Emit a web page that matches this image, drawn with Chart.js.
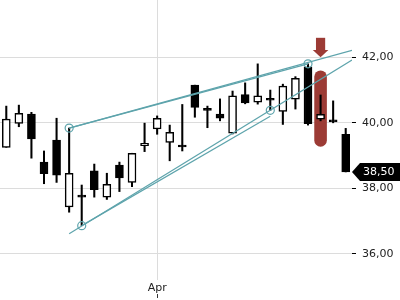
<!DOCTYPE html>
<html>
<head>
<meta charset="utf-8">
<script src="https://cdn.jsdelivr.net/npm/chart.js@4"></script>
<style>
  body { margin: 0; background: #fff; }
</style>
</head>
<body>
<canvas id="chart" width="400" height="300"></canvas>
<script>
// candle values, one entry per trading day
const opens  = [39.25, 39.98, 40.27, 38.80, 39.47, 37.43, 37.75, 38.53, 37.73, 38.71, 38.18, 39.30, 39.81, 39.40,
                39.28, 41.15, 40.40, 40.27, 39.68, 40.86, 40.63, 40.71, 40.35, 40.72, 41.71, 40.11, 40.06, 39.65];
const highs  = [40.51, 40.54, 40.32, 39.14, 40.14, 39.84, 38.10, 38.74, 38.46, 38.80, 39.07, 39.99, 40.21, 39.93,
                40.56, 41.15, 40.51, 40.73, 40.97, 41.22, 41.80, 41.00, 41.18, 41.41, 41.80, 40.85, 40.67, 39.83];
const lows   = [39.25, 39.88, 38.92, 38.14, 38.18, 37.27, 36.86, 37.73, 37.66, 37.90, 38.05, 39.12, 39.65, 38.84,
                39.14, 40.17, 39.85, 40.06, 39.66, 40.58, 40.57, 40.38, 39.95, 40.42, 39.93, 40.06, 40.00, 38.50];
const closes = [40.11, 40.29, 39.51, 38.45, 38.40, 38.46, 37.73, 37.96, 38.12, 38.32, 39.07, 39.37, 40.14, 39.71,
                39.26, 40.47, 40.38, 40.14, 40.82, 40.61, 40.82, 40.69, 41.12, 41.36, 39.97, 40.26, 40.03, 38.50];

const aprIndex = 12;
const yTicks = [36, 38, 40, 42];

// trend lines drawn on the chart: [start, end] as {x: day index, y: price}
const trendLines = [
  [{x: 5, y: 39.84}, {x: 24, y: 41.80}],
  [{x: 5, y: 39.84}, {x: 27.5, y: 42.21}],
  [{x: 5, y: 36.61}, {x: 27.5, y: 41.92}],
  [{x: 6, y: 36.86}, {x: 21, y: 40.20}]
];
const anchors = [{x: 5, y: 39.84}, {x: 24, y: 41.80}, {x: 6, y: 36.86}, {x: 21, y: 40.38}];

// marked day: arrow points at markArrowPrice, highlight covers markTop..markBottom
const markIndex = 25;
const markArrowPrice = 42.0;
const markTop = 41.6;
const markBottom = 39.27;

const teal = '#5ea4ac';
const markRed = '#9c3b35';

const fmt = v => v.toFixed(2).replace('.', ',');

const bodyData = opens.map((o, i) => ({x: i, y: [o, closes[i]]}));
const wickData = lows.map((l, i) => ({x: i, y: [l, highs[i]]}));
const bodyFill = opens.map((o, i) => closes[i] > o ? '#fff' : '#000');

const extras = {
  id: 'extras',
  beforeDatasetsDraw(chart) {
    const {ctx, scales: {x, y}} = chart;
    const cx = x.getPixelForValue(markIndex);
    const top = y.getPixelForValue(markTop);
    const bot = y.getPixelForValue(markBottom);
    ctx.save();
    ctx.fillStyle = markRed;
    ctx.beginPath();
    ctx.roundRect(cx - 6.3, top, 12.6, bot - top, 6.3);
    ctx.fill();
    ctx.restore();
  },
  afterDraw(chart) {
    const {ctx, scales: {x, y}} = chart;
    // arrow
    const cx = x.getPixelForValue(markIndex);
    const tip = y.getPixelForValue(markArrowPrice);
    ctx.save();
    ctx.fillStyle = markRed;
    ctx.fillRect(cx - 4.6, tip - 19.5, 9.2, 12.5);
    ctx.beginPath();
    ctx.moveTo(cx - 7.8, tip - 7.2);
    ctx.lineTo(cx + 7.8, tip - 7.2);
    ctx.lineTo(cx, tip);
    ctx.closePath();
    ctx.fill();

    // small tick under the month label
    const ax = Math.round(x.getPixelForValue(aprIndex)) + 0.5;
    ctx.strokeStyle = '#333';
    ctx.lineWidth = 1;
    ctx.beginPath();
    ctx.moveTo(ax, 294);
    ctx.lineTo(ax, 298);
    ctx.stroke();

    // last price label
    const last = closes[closes.length - 1];
    const py = y.getPixelForValue(last);
    const lx = chart.chartArea.right;
    ctx.fillStyle = '#000';
    ctx.beginPath();
    ctx.moveTo(lx, py);
    ctx.lineTo(lx + 8, py - 9);
    ctx.lineTo(400, py - 9);
    ctx.lineTo(400, py + 9);
    ctx.lineTo(lx + 8, py + 9);
    ctx.closePath();
    ctx.fill();
    ctx.fillStyle = '#fff';
    ctx.font = '11px "DejaVu Sans"';
    ctx.textBaseline = 'middle';
    ctx.textAlign = 'left';
    ctx.fillText(fmt(last), lx + 11, py + 0.5);
    ctx.restore();
  }
};

Chart.defaults.font.family = '"DejaVu Sans", sans-serif';
Chart.defaults.font.size = 11;
Chart.defaults.color = '#222';

const lineSets = trendLines.map(pts => ({
  type: 'line',
  data: pts,
  borderColor: teal,
  borderWidth: 1.2,
  pointRadius: 0,
  fill: false,
  order: 0
}));

new Chart(document.getElementById('chart'), {
  type: 'bar',
  data: {
    datasets: [
      ...lineSets,
      {
        type: 'line',
        data: anchors,
        showLine: false,
        pointRadius: 4,
        pointBorderWidth: 1.2,
        pointBorderColor: teal,
        pointBackgroundColor: 'rgba(0,0,0,0)',
        order: 0
      },
      {
        data: bodyData,
        backgroundColor: bodyFill,
        borderColor: '#000',
        borderWidth: 1.5,
        borderSkipped: false,
        barThickness: 8,
        minBarLength: 2,
        grouped: false,
        order: 1
      },
      {
        data: wickData,
        backgroundColor: '#000',
        borderWidth: 0,
        barThickness: 1.4,
        grouped: false,
        order: 2
      }
    ]
  },
  plugins: [extras],
  options: {
    responsive: false,
    animation: false,
    devicePixelRatio: 1,
    layout: { padding: 0, autoPadding: false },
    plugins: {
      legend: { display: false },
      tooltip: { enabled: false }
    },
    scales: {
      x: {
        type: 'linear',
        min: -0.5,
        max: closes.length - 0.5,
        offset: false,
        afterBuildTicks: s => { s.ticks = [{value: aprIndex}]; },
        afterFit: s => { s.height = 20; s.paddingLeft = 0; s.paddingRight = 0; },
        ticks: {
          autoSkip: false,
          maxRotation: 0,
          padding: 2,
          callback: () => 'Apr'
        },
        grid: { color: '#dcdcdc', drawTicks: false, offset: false },
        border: { display: false }
      },
      y: {
        position: 'right',
        min: 35.2,
        max: 43.75,
        afterBuildTicks: s => { s.ticks = yTicks.map(v => ({value: v})); },
        afterFit: s => { s.width = 48; s.paddingTop = 0; s.paddingBottom = 0; },
        ticks: {
          padding: 6,
          callback: v => fmt(v)
        },
        grid: { color: '#dcdcdc', tickColor: '#000', tickLength: 4 },
        border: { display: false }
      }
    }
  }
});
</script>
</body>
</html>
